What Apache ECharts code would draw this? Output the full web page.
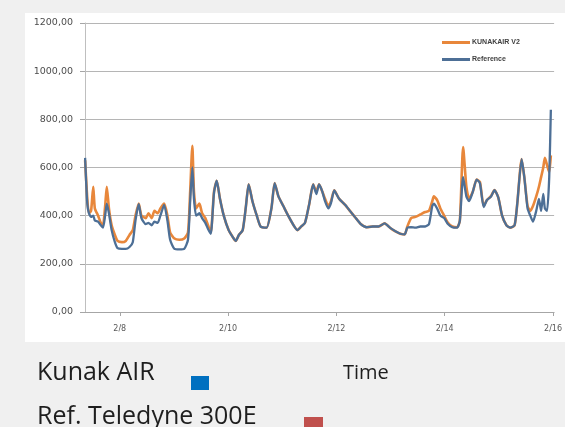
<!DOCTYPE html>
<html>
<head>
<meta charset="utf-8">
<script src="https://cdn.jsdelivr.net/npm/echarts@6/dist/echarts.min.js"></script>
<style>
  html, body { margin: 0; padding: 0; background: #f0f0f0; }
  #chart { width: 565px; height: 427px; }
</style>
</head>
<body>
<div id="chart"></div>
<script>
// Sample times, in days of February (7.5 = Feb 7, 12:00)
const times = [
  7.36, 7.40, 7.43, 7.47, 7.51, 7.54, 7.60, 7.65, 7.69, 7.73, 7.76, 7.80, 7.85, 7.91, 7.96,
  8.04, 8.11, 8.18, 8.24, 8.29, 8.35, 8.40, 8.48, 8.53, 8.59, 8.64, 8.70, 8.75, 8.82, 8.88,
  8.93, 9.01, 9.10, 9.19, 9.26, 9.30, 9.34, 9.37, 9.41, 9.47, 9.52, 9.58, 9.63, 9.68, 9.74,
  9.79, 9.85, 9.92, 10.01, 10.09, 10.14, 10.20, 10.27, 10.33, 10.38, 10.45, 10.53, 10.60, 10.71, 10.80,
  10.86, 10.93, 11.02, 11.11, 11.21, 11.28, 11.35, 11.42, 11.50, 11.57, 11.63, 11.68, 11.74, 11.79, 11.85,
  11.90, 11.96, 12.05, 12.16, 12.25, 12.34, 12.45, 12.56, 12.67, 12.78, 12.89, 13.00, 13.09, 13.18, 13.26,
  13.31, 13.38, 13.46, 13.55, 13.64, 13.71, 13.77, 13.80, 13.86, 13.92, 13.99, 14.06, 14.14, 14.23, 14.28,
  14.34, 14.40, 14.45, 14.52, 14.59, 14.65, 14.72, 14.78, 14.85, 14.92, 14.99, 15.06, 15.14, 15.21, 15.29,
  15.34, 15.42, 15.47, 15.53, 15.58, 15.63, 15.69, 15.74, 15.78, 15.82, 15.85, 15.89, 15.93, 15.96
];

// KUNAKAIR V2 sensor readings
const kunak = [
  630, 470, 410, 420, 520, 430, 400, 370, 360, 440, 520, 430, 360, 320, 295,
  290, 295, 320, 340, 400, 450, 400, 390, 410, 390, 420, 410, 430, 450, 400,
  330, 305, 300, 305, 330, 500, 690, 500, 430, 450, 410, 390, 360, 330, 500,
  545, 470, 400, 340, 310, 295, 320, 340, 440, 530, 460, 400, 355, 350, 430,
  535, 480, 440, 400, 360, 340, 355, 370, 450, 530, 500, 530, 500, 470, 440,
  460, 505, 470, 445, 420, 395, 365, 352, 355, 355, 368, 348, 335, 325, 322,
  355, 390, 395, 405, 415, 420, 460, 480, 465, 430, 400, 370, 355, 352, 380,
  685, 520, 470, 500, 550, 540, 440, 465, 480, 506, 475, 400, 360, 350, 360,
  450, 635, 560, 440, 420, 440, 480, 520, 560, 600, 640, 610, 580, 650
];

// Reference analyser readings
const reference = [
  640, 450, 410, 395, 400, 380, 375, 360, 350, 400, 450, 410, 340, 290, 265,
  262, 262, 270, 290, 380, 448, 390, 365, 370, 360, 375, 370, 400, 445, 380,
  300, 262, 260, 262, 300, 460, 600, 470, 400, 410, 390, 370, 345, 325, 495,
  545, 470, 400, 340, 310, 295, 320, 340, 440, 530, 460, 400, 355, 350, 430,
  535, 480, 440, 400, 360, 340, 355, 370, 450, 530, 490, 530, 500, 460, 430,
  452, 505, 470, 445, 420, 395, 365, 352, 355, 355, 368, 348, 335, 325, 322,
  350, 352, 350, 355, 355, 365, 440, 450, 430, 400, 390, 365, 352, 350, 380,
  560, 480, 460, 500, 550, 535, 436, 465, 478, 506, 475, 400, 360, 350, 360,
  450, 635, 560, 430, 400, 375, 420, 470, 420, 490, 430, 420, 560, 840
];

// Day-of-month positions that carry a date label
const dateTicks = [8, 10, 12, 14, 16];

const kunakSeries = times.map((t, i) => [t, kunak[i]]);
const refSeries = times.map((t, i) => [t, reference[i]]);

const chart = echarts.init(document.getElementById('chart'), null, { renderer: 'canvas' });

chart.setOption({
  backgroundColor: '#f0f0f0',
  animation: false,
  graphic: [
    { type: 'rect', left: 25, top: 13, shape: { width: 540, height: 329 }, style: { fill: '#ffffff' }, z: -10 },
    { type: 'text', left: 37, top: 360, style: { text: 'Kunak AIR', font: '25px "Open Sans"', fill: '#1e1e1e' } },
    { type: 'rect', left: 191, top: 376, shape: { width: 18, height: 14 }, style: { fill: '#0070c0' } },
    { type: 'text', left: 343, top: 363, style: { text: 'Time', font: '20px "Open Sans"', fill: '#1e1e1e' } },
    { type: 'text', left: 37, top: 404, style: { text: 'Ref. Teledyne 300E', font: '25px "Open Sans"', fill: '#1e1e1e' } },
    { type: 'rect', left: 304, top: 417, shape: { width: 19, height: 14 }, style: { fill: '#c0504d' } }
  ],
  legend: {
    orient: 'vertical',
    left: 437,
    top: 34,
    itemGap: 10,
    itemWidth: 28,
    itemHeight: 3,
    icon: 'rect',
    textStyle: { fontFamily: 'Liberation Sans', fontSize: 7, fontWeight: 'bold', color: '#404040', padding: [0, 0, 0, -3] },
    data: [
      { name: 'KUNAKAIR V2', itemStyle: { color: '#e8873b' } },
      { name: 'Reference', itemStyle: { color: '#4d6f96' } }
    ]
  },
  grid: { left: 85, right: 7, top: 23, bottom: 115, containLabel: false },
  xAxis: {
    type: 'value',
    min: 7.358,
    max: 16.02,
    axisLine: { show: true, lineStyle: { color: '#a6a6a6', width: 1 } },
    axisTick: { show: true, customValues: dateTicks, length: 4, lineStyle: { color: '#a6a6a6' } },
    axisLabel: {
      customValues: dateTicks,
      formatter: v => '2/' + v,
      fontFamily: 'DejaVu Sans',
      fontSize: 8,
      color: '#595959',
      margin: 13
    },
    splitLine: { show: false }
  },
  yAxis: {
    type: 'value',
    min: 0,
    max: 1200,
    interval: 200,
    axisLine: { show: true, lineStyle: { color: '#bfbfbf' } },
    axisTick: { show: true, length: 5, lineStyle: { color: '#a6a6a6' } },
    axisLabel: {
      formatter: v => v.toFixed(2).replace('.', ','),
      fontFamily: 'DejaVu Sans',
      fontSize: 9.5,
      color: '#4d4d4d',
      margin: 12
    },
    splitLine: { show: true, lineStyle: { color: '#b5b5b5', width: 1 } }
  },
  series: [
    {
      name: 'KUNAKAIR V2',
      type: 'line',
      data: kunakSeries,
      showSymbol: false,
      smooth: 0.2,
      lineStyle: { color: '#e8873b', width: 2.6 },
      itemStyle: { color: '#e8873b' },
      z: 2
    },
    {
      name: 'Reference',
      type: 'line',
      data: refSeries,
      showSymbol: false,
      smooth: 0.2,
      lineStyle: { color: '#4d6f96', width: 2.3 },
      itemStyle: { color: '#4d6f96' },
      z: 3
    }
  ]
});
</script>
</body>
</html>
